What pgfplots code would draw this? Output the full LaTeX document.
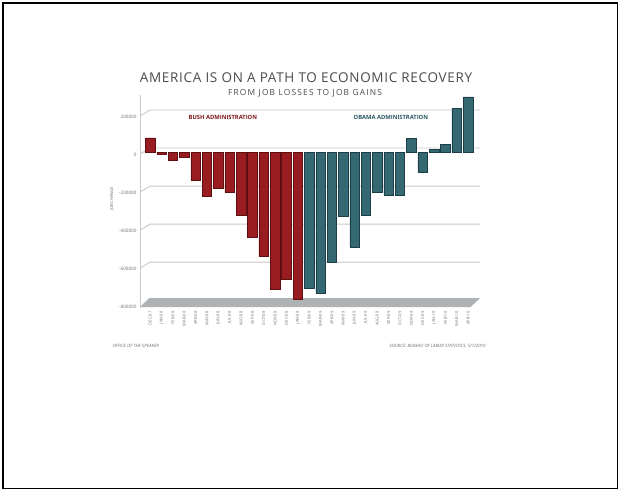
\documentclass[border=0pt]{standalone}
\usepackage{pgfplots}
\pgfplotsset{compat=1.18}
\usepackage{fontspec}
\setmainfont{Open Sans}
\newfontfamily\titlefont[LetterSpace=5]{Open Sans}
\newfontfamily\subfont[LetterSpace=14]{Open Sans}
\definecolor{bushred}{RGB}{152,28,32}
\definecolor{bushedge}{RGB}{95,14,18}
\definecolor{obamateal}{RGB}{52,104,114}
\definecolor{obamaedge}{RGB}{28,62,70}
\definecolor{titlegray}{RGB}{75,75,75}
\definecolor{labgray}{RGB}{110,110,110}
\definecolor{gridgray}{RGB}{200,200,200}
\definecolor{floorgray}{RGB}{175,178,180}
\begin{document}
\begin{tikzpicture}[x=1pt,y=1pt]
\useasboundingbox (0,0) rectangle (621,492);
\fill[white] (0,0) rectangle (621,492);
\draw[black, line width=1.4pt] (3,3.5) rectangle (617.5,489);
% titles
\node[text=titlegray, font=\titlefont\fontsize{13.5}{14}\selectfont] at (306,414) {AMERICA IS ON A PATH TO ECONOMIC RECOVERY};
\node[text=titlegray, font=\subfont\fontsize{8.4}{9}\selectfont] at (305,399) {FROM JOB LOSSES TO JOB GAINS};
% footers
\node[anchor=west, text=labgray, font=\fontsize{4.4}{5}\selectfont\itshape] at (109,146) {OFFICE OF THE SPEAKER};
\node[anchor=west, text=labgray, font=\fontsize{4.4}{5}\selectfont\itshape] at (386,146) {SOURCE: BUREAU OF LABOR STATISTICS, 5/7/2010};
\node[rotate=90, text=labgray, font=\fontsize{4}{5}\selectfont] at (112,293) {JOB CHANGE};
\begin{axis}[
  at={(140pt,184pt)}, anchor=south west,
  scale only axis, width=340pt, height=213pt,
  xmin=-0.9, xmax=29.05, ymin=-820000, ymax=300000,
  axis lines*=left,
  x axis line style={draw=none},
  y axis line style={draw=gridgray, line width=0.8pt},
  clip=false,
  major tick length=0pt,
  ytick={-800000,-600000,-400000,-200000,0,200000},
  yticklabel style={font=\fontsize{4.6}{5}\selectfont, text=labgray, yshift=-3pt, /pgf/number format/fixed, /pgf/number format/1000 sep={}, /pgf/number format/assume math mode=true},
  scaled y ticks=false,
  xtick={0,...,28},
  xticklabels={DEC-07,JAN-08,FEB-08,MAR-08,APR-08,MAY-08,JUN-08,JUL-08,AUG-08,SEP-08,OCT-08,NOV-08,DEC-08,JAN-09,FEB-09,MAR-09,APR-09,MAY-09,JUN-09,JUL-09,AUG-09,SEP-09,OCT-09,NOV-09,DEC-09,JAN-10,FEB-10,MAR-10,APR-10},
  xticklabel style={font=\fontsize{4}{5}\selectfont, text=labgray, rotate=90, anchor=east},
]
\fill[floorgray] ([yshift=-3pt]axis cs:-0.9,-800000) -- ([yshift=6pt]axis cs:-0.1,-800000) -- ([yshift=6pt]axis cs:29.05,-800000) -- ([yshift=-3pt]axis cs:28.2,-800000) -- cycle;
\pgfplotsinvokeforeach{-600000,-400000,-200000,0,200000}{
  \draw[gridgray, line width=0.9pt] ([yshift=-2pt]axis cs:-0.9,#1) -- ([yshift=4pt]axis cs:0,#1) -- ([yshift=4pt]axis cs:29.05,#1);
}
\addplot[ybar, bar width=9.5pt, bar shift=0pt, fill=bushred, draw=bushedge, line width=0.5pt] coordinates {
(0,75000) (1,-10000) (2,-45000) (3,-30000) (4,-150000) (5,-230000) (6,-190000)
(7,-210000) (8,-330000) (9,-450000) (10,-550000) (11,-720000) (12,-670000) (13,-775000)
};
\addplot[ybar, bar width=9.5pt, bar shift=0pt, fill=obamateal, draw=obamaedge, line width=0.5pt] coordinates {
(14,-715000) (15,-740000) (16,-580000) (17,-340000) (18,-500000) (19,-330000) (20,-210000)
(21,-225000) (22,-225000) (23,70000) (24,-105000) (25,15000) (26,40000) (27,230000) (28,290000)
};
\node[text=bushred!85!black, font=\fontsize{5.8}{6}\selectfont\bfseries] at (axis cs:6.4,180000) {BUSH ADMINISTRATION};
\node[text=obamateal!85!black, font=\fontsize{5.8}{6}\selectfont\bfseries] at (axis cs:21.2,180000) {OBAMA ADMINISTRATION};
\end{axis}
\end{tikzpicture}
\end{document}
